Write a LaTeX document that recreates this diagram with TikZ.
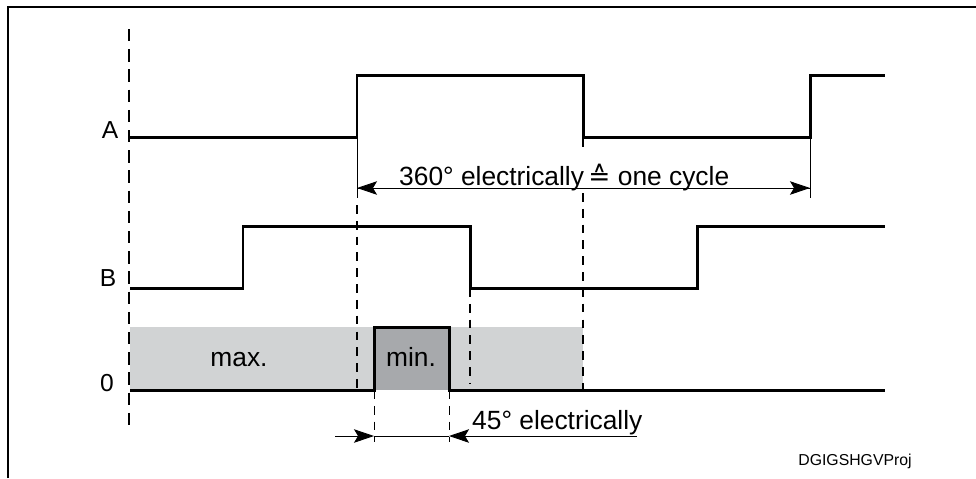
\documentclass[tikz,border=0pt]{standalone}
\usepackage{fontspec}
\setmainfont{Liberation Sans}
\newfontfamily\symfont{DejaVu Sans}
\usetikzlibrary{arrows.meta,positioning}
\definecolor{lightfill}{RGB}{209,211,212}
\definecolor{darkfill}{RGB}{167,169,172}

\begin{document}
\begin{tikzpicture}[x=0.02cm, y=-0.02cm,
  signal/.style={line width=1.7pt, line join=miter},
  guide/.style={line width=0.8pt, dash pattern=on 5pt off 4pt},
  dimline/.style={line width=0.5pt},
  dimtip/.style={-{Stealth[length=4mm,width=2.7mm,inset=0.8mm]}},
  chan/.style={font=\fontsize{14}{16}\selectfont, anchor=base},
  note/.style={font=\fontsize{15}{17}\selectfont, anchor=base west}]

\useasboundingbox (0,0) rectangle (976,478);

% frame
\draw[line width=1.1pt] (8,478) -- (8,7) -- (976,7);

% shaded pulse widths
\fill[lightfill] (130,327) rectangle (583,390);
\fill[darkfill] (374,327) rectangle (449,390);

% guide lines
\draw[guide, line width=1.1pt, dash pattern=on 7pt off 4.5pt] (129,29) -- (129,430);
\draw[dimline] (357,137) -- (357,198);
\draw[guide] (357,205) -- (357,390);
\draw[guide] (583,138) -- (583,148);
\draw[guide] (583,193) -- (583,390);
\draw[dimline] (810,137) -- (810,198);
\draw[guide] (470,288) -- (470,384);
\draw[guide, line width=0.5pt] (374,390) -- (374,442);
\draw[guide, line width=0.5pt] (449,390) -- (449,442);

% signals
\draw[signal] (130,137) -- (357,137) -- (357,75) -- (583,75) -- (583,137)
  -- (810,137) -- (810,75) -- (885,75);
\draw[signal] (130,288) -- (243,288) -- (243,226) -- (470,226) -- (470,288)
  -- (697,288) -- (697,226) -- (885,226);
\draw[signal] (130,390) -- (374,390) -- (374,327) -- (449,327) -- (449,390)
  -- (885,390);

\node[chan] (lblA) at (110,138) {A};
\node[chan] (lblB) at (108,286) {B};
\node[chan] (lbl0) at (107,391) {0};

\node[note, anchor=base] (max) at (239,366) {max.};
\node[note, anchor=base] (min) at (411,366) {min.};

% one cycle
\coordinate (cycL) at (357,188);
\coordinate (cycR) at (810,188);
\draw[dimline, dimtip] (cycR) -- (cycL);
\draw[dimline, dimtip] (cycL) -- (cycR);
\node[note] (cycle) at (393,185)
  {360\textdegree{} electrically{\symfont\,≙} one cycle};

% 45 degrees
\coordinate (minL) at (374,436);
\coordinate (minR) at (449,436);
\coordinate (inL) at (335,436);
\coordinate (inR) at (637,436);
\draw[dimline, dimtip] (inL) -- (minL);
\draw[dimline] (minL) -- (minR);
\draw[dimline, dimtip] (inR) -- (minR);
\node[note] (deg) at (466,429) {45\textdegree{} electrically};

\node[font=\fontsize{9}{11}\selectfont, anchor=base] (ref) at (855,465) {DGIGSHGVProj};

\end{tikzpicture}
\end{document}
